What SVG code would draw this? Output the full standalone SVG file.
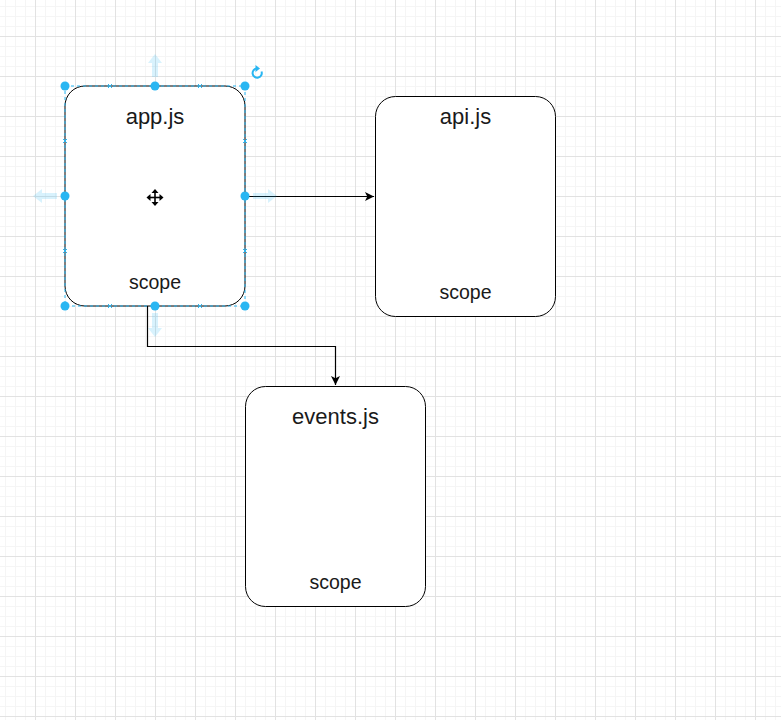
<svg xmlns="http://www.w3.org/2000/svg" width="781" height="720" viewBox="0 0 781 720">
  <defs>
    <pattern id="grid" x="-5" y="-4" width="40" height="40" patternUnits="userSpaceOnUse">
      <path d="M10.5 0V40M20.5 0V40M30.5 0V40M0 10.5H40M0 20.5H40M0 30.5H40" stroke="#f5f5f5" stroke-width="1" fill="none"/>
      <path d="M0.5 0V40M0 0.5H40" stroke="#e2e2e2" stroke-width="1" fill="none"/>
    </pattern>
    <marker id="arrow" viewBox="0 0 10 10" refX="10" refY="5" markerWidth="9" markerHeight="9" markerUnits="userSpaceOnUse" orient="auto">
      <path d="M0 0L10 5L0 10L2.5 5Z" fill="#000"/>
    </marker>
    <style>
      .node { fill: #ffffff; stroke: #000000; stroke-width: 1; }
      .title { font-family: "Liberation Sans", Arial, sans-serif; font-size: 22px; fill: #1a1a1a; text-anchor: middle; }
      .scope { font-family: "Liberation Sans", Arial, sans-serif; font-size: 19.5px; fill: #1a1a1a; text-anchor: middle; }
      .edge { fill: none; stroke: #000000; stroke-width: 1.2; }
      .handle { fill: #29b6f2; }
      .sel { fill: none; stroke: #29b6f2; stroke-width: 1; stroke-dasharray: 3 3; }
      .cp { stroke: #29b6f2; stroke-width: 1; }
      .hover { fill: #29b6f2; opacity: 0.18; }
    </style>
  </defs>

  <rect x="0" y="0" width="781" height="720" fill="#ffffff"/>
  <rect x="0" y="0" width="781" height="720" fill="url(#grid)"/>

  <g id="connectors">
    <path class="edge" d="M245 196.5H374" marker-end="url(#arrow)"/>
    <path class="edge" d="M147.5 306V346.5H335.5V385" marker-end="url(#arrow)"/>
  </g>

  <g id="node-app">
    <rect class="node" x="65" y="86" width="180" height="220" rx="20" ry="20"/>
    <text class="title" x="155" y="123.5">app.js</text>
    <text class="scope" x="155" y="289">scope</text>
  </g>

  <g id="node-api">
    <rect class="node" x="375.5" y="96.5" width="180" height="220" rx="20" ry="20"/>
    <text class="title" x="465.5" y="123.5">api.js</text>
    <text class="scope" x="465.5" y="298.5">scope</text>
  </g>

  <g id="node-events">
    <rect class="node" x="245.5" y="386.5" width="180" height="220" rx="20" ry="20"/>
    <text class="title" x="335.5" y="423.5">events.js</text>
    <text class="scope" x="335.5" y="588.5">scope</text>
  </g>

  <g id="selection">
    <rect class="sel" x="65" y="86" width="180" height="220"/>
    <g class="cp">
      <path d="M108 84L112 88M112 84L108 88M198 84L202 88M202 84L198 88M108 304L112 308M112 304L108 308M198 304L202 308M202 304L198 308M63 139L67 143M67 139L63 143M63 249L67 253M67 249L63 253M243 139L247 143M247 139L243 143M243 249L247 253M247 249L243 253"/>
    </g>
    <circle class="handle" cx="65" cy="86" r="4.5"/>
    <circle class="handle" cx="155" cy="86" r="4.5"/>
    <circle class="handle" cx="245" cy="86" r="4.5"/>
    <circle class="handle" cx="65" cy="196" r="4.5"/>
    <circle class="handle" cx="245" cy="196" r="4.5"/>
    <circle class="handle" cx="65" cy="306" r="4.5"/>
    <circle class="handle" cx="155" cy="306" r="4.5"/>
    <circle class="handle" cx="245" cy="306" r="4.5"/>
    <path class="hover" d="M155 54L162 63H158V77H152V63H148Z"/>
    <path class="hover" d="M33 196L42 189V193H57V199H42V203Z"/>
    <path class="hover" d="M277 196L268 189V193H253V199H268V203Z"/>
    <path class="hover" d="M155 337L148 328H152V313H158V328H162Z"/>
    <path d="M261.5 71.5A4.6 4.6 0 1 1 257 68.5" fill="none" stroke="#29b6f2" stroke-width="2"/>
    <path d="M255.5 65L260 68.5L255.5 72Z" fill="#29b6f2"/>
    <g fill="#000">
      <path d="M148 197.5H162" stroke="#000" stroke-width="1.6"/>
      <path d="M155 190.5V204.5" stroke="#000" stroke-width="1.6"/>
      <path d="M155 189L151.5 193H158.5Z"/>
      <path d="M155 206L151.5 202H158.5Z"/>
      <path d="M146.5 197.5L150.5 194V201Z"/>
      <path d="M163.5 197.5L159.5 194V201Z"/>
    </g>
  </g>
</svg>
